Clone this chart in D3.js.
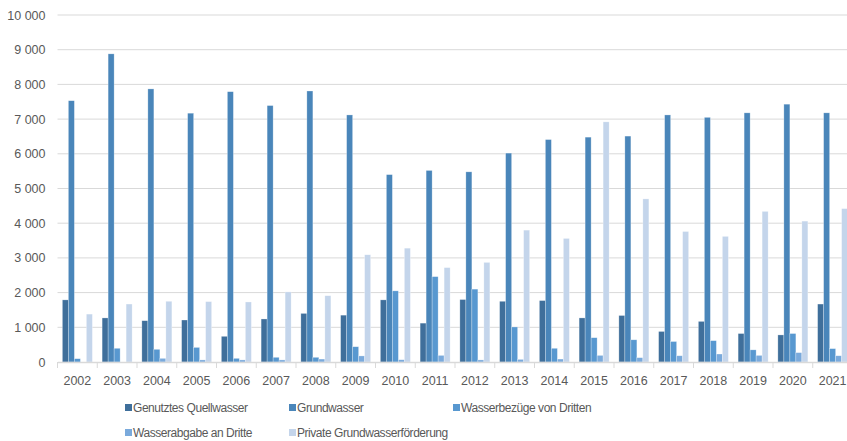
<!DOCTYPE html>
<html><head><meta charset="utf-8">
<script src="https://cdn.jsdelivr.net/npm/d3@7"></script>
<style>
html,body{margin:0;padding:0;background:#fff;overflow:hidden}
svg text{font-family:"Liberation Sans",Arial,sans-serif;fill:#595959}
</style></head><body>
<svg id="chart" width="847" height="441"></svg>
<script>
const years = ["2002","2003","2004","2005","2006","2007","2008","2009","2010","2011","2012","2013","2014","2015","2016","2017","2018","2019","2020","2021"];
const seriesNames = ["Genutztes Quellwasser","Grundwasser","Wasserbezüge von Dritten","Wasserabgabe an Dritte","Private Grundwasserförderung"];
const genutztesQuellwasser = [1790,1270,1190,1210,740,1240,1400,1350,1790,1120,1800,1750,1770,1270,1340,880,1170,820,780,1670];
const grundwasser = [7530,8880,7870,7170,7790,7390,7810,7120,5400,5520,5480,6020,6410,6480,6510,7120,7050,7180,7430,7180];
const wasserbezuegeVonDritten = [95,395,365,420,105,135,135,440,2050,2460,2100,1010,395,700,640,590,615,350,820,385];
const wasserabgabeAnDritte = [0,0,105,60,60,60,85,175,65,190,60,75,85,190,125,180,230,190,270,180];
const privateGrundwasserfoerderung = [1380,1670,1750,1740,1730,2020,1910,3090,3280,2720,2870,3800,3560,6920,4700,3760,3620,4340,4060,4420];
const yTicks = [0,1000,2000,3000,4000,5000,6000,7000,8000,9000,10000];
const colors = ["#3f6f9b","#4a86ba","#5898d0","#7aaadc","#c4d5eb"];

const seriesValues = [genutztesQuellwasser, grundwasser, wasserbezuegeVonDritten, wasserabgabeAnDritte, privateGrundwasserfoerderung];

const svg = d3.select("#chart");
const plotLeft = 57.5, plotTop = 15, plotBottom = 362;
const bandW = 39.75;
const plotRight = plotLeft + bandW * years.length;

const y = d3.scaleLinear().domain([0,10000]).range([plotBottom, plotTop]);
const x = d3.scaleBand().domain(years).range([plotLeft, plotRight]).paddingInner(0).paddingOuter(0);
const barW = 6;
const inner = d3.scaleBand().domain(d3.range(5)).range([0, barW*5]).padding(0);
const off = (bandW - barW*5)/2;

// gridlines
svg.append("g").selectAll("line").data(yTicks.filter(t=>t>0)).join("line")
  .attr("x1", plotLeft).attr("x2", 847).attr("y1", d=>y(d)).attr("y2", d=>y(d))
  .attr("stroke", "#d9d9d9").attr("stroke-width", 1);

// y axis labels
const yAxis = d3.axisLeft(y).tickValues(yTicks).tickSize(0).tickPadding(12)
  .tickFormat(d => d3.format(",")(d).replace(/,/g, " "));
const ya = svg.append("g").attr("transform", `translate(${plotLeft},0)`).call(yAxis);
ya.select(".domain").remove();
ya.selectAll("text").style("font-size","12.5px").attr("fill","#595959");

// bars
const gYears = svg.append("g").selectAll("g").data(years).join("g")
  .attr("transform", d => `translate(${x(d)+off},0)`);
gYears.selectAll("rect").data((d,i) => seriesValues.map((s,k)=>({k, v:s[i]})))
  .join("rect")
  .attr("x", d => inner(d.k))
  .attr("width", inner.bandwidth())
  .attr("y", d => y(d.v))
  .attr("height", d => plotBottom - y(d.v))
  .attr("fill", d => colors[d.k])
  .attr("stroke", "#ffffff").attr("stroke-opacity", 0.45).attr("stroke-width", 0.6);

// x axis
const xAxis = d3.axisBottom(x).tickSize(0).tickPadding(14);
const xa = svg.append("g").attr("transform", `translate(0,${plotBottom})`).call(xAxis);
xa.select(".domain").attr("stroke","#d9d9d9").attr("stroke-width",1.3);
xa.selectAll("text").style("font-size","12.5px").attr("fill","#595959");
// tick marks at band boundaries
svg.append("g").selectAll("line").data(d3.range(years.length+1)).join("line")
  .attr("x1", i => plotLeft + i*bandW).attr("x2", i => plotLeft + i*bandW)
  .attr("y1", plotBottom).attr("y2", plotBottom+6)
  .attr("stroke", "#d9d9d9").attr("stroke-width", 1);

// legend
const legendPos = [[125,408],[289,408],[453,408],[125,433],[289,433]];
const lg = svg.append("g").selectAll("g").data(seriesNames).join("g")
  .attr("transform", (d,i)=>`translate(${legendPos[i][0]},${legendPos[i][1]})`);
lg.append("rect").attr("x",0).attr("y",-4).attr("width",7).attr("height",7).attr("fill",(d,i)=>colors[i]);
lg.append("text").attr("x",8).attr("y",0).attr("dy","0.35em")
  .style("font-size","12px").style("letter-spacing","-0.45px").text(d=>d);
</script>
</body></html>
